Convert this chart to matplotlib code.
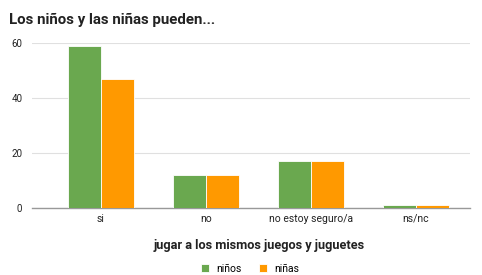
import numpy as np
import matplotlib.pyplot as plt

categorias = ["si", "no", "no estoy seguro/a", "ns/nc"]
ninos = [59, 12, 17, 1]
ninas = [47, 12, 17, 1]

plt.rcParams['font.family'] = ['Roboto', 'DejaVu Sans']

fig = plt.figure(figsize=(4.82, 2.75), dpi=100)
ax = fig.add_axes([32 / 482, 1 - 208 / 275, 438 / 482, 165 / 275])

x = np.arange(len(categorias))
w = 0.315
ax.bar(x - w / 2, ninos, w, color="#6aa84f", edgecolor="white", linewidth=0.6, label="niños", zorder=3)
ax.bar(x + w / 2, ninas, w, color="#ff9900", edgecolor="white", linewidth=0.6, label="niñas", zorder=3)

ax.set_xlim(-0.657, 3.514)
ax.set_ylim(0, 60)
ax.set_yticks([0, 20, 40, 60])
ax.set_xticks(x)
ax.set_xticklabels(categorias)
ax.grid(axis="y", color="#e0e0e0", linewidth=0.8, zorder=0)
ax.tick_params(axis="both", length=0, labelsize=7.5, colors="#222222")
ax.tick_params(axis="y", labelsize=7, pad=7)
ax.tick_params(axis="x", pad=4)
for s in ["top", "right", "left"]:
    ax.spines[s].set_visible(False)
ax.spines["bottom"].set_color("#999999")
ax.spines["bottom"].set_linewidth(1.0)

fig.text(9 / 482, 1 - 20 / 275, "Los niños y las niñas pueden...", fontsize=10.8,
         fontweight="bold", color="#222222", va="center")
fig.text(259 / 482, 1 - 246 / 275, "jugar a los mismos juegos y juguetes", fontsize=9.2,
         fontweight="bold", color="#222222", va="center", ha="center")

fig.legend(loc="center", bbox_to_anchor=(250 / 482, 1 - 269 / 275), ncol=2, frameon=False,
           fontsize=7.5, handlelength=0.8, handleheight=0.8, columnspacing=1.6, handletextpad=0.7)

fig.savefig("out.png", dpi=100)
